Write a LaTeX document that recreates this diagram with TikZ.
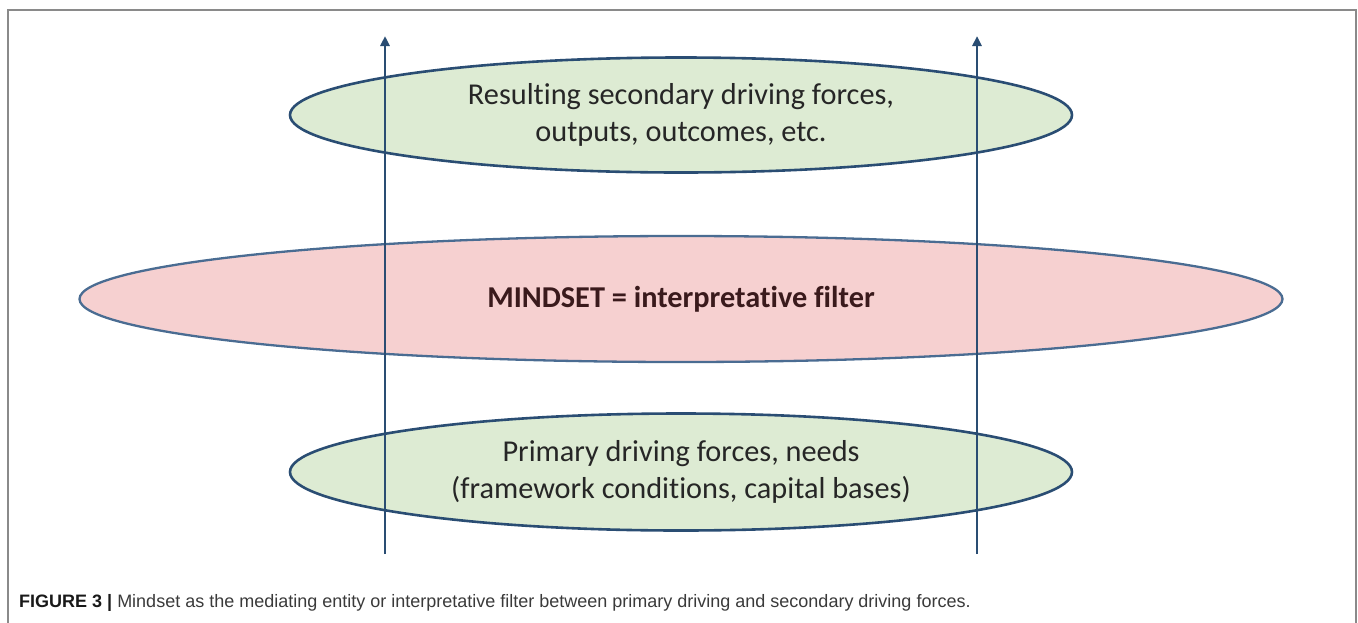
\documentclass[tikz,border=0pt]{standalone}
\usepackage{fontspec}
\setmainfont{Carlito}[Ligatures=NoCommon]
\newfontfamily\capfont{Liberation Sans}
\usetikzlibrary{shapes.geometric,arrows.meta}
\definecolor{strokeblue}{HTML}{2A4D73}
\definecolor{midblue}{HTML}{4A6C92}
\definecolor{greenfill}{HTML}{DDEBD3}
\definecolor{pinkfill}{HTML}{F6D0D0}
\definecolor{frameGray}{HTML}{8A8A8A}
\definecolor{mindtext}{HTML}{3A1A1C}
\definecolor{captext}{HTML}{3A3A3A}
\tikzset{
  oval/.style={ellipse, draw=strokeblue, line width=2.6pt, inner sep=0pt, align=center, font=\fontsize{30.3}{37}\selectfont, text=black!85},
  flow/.style={draw=strokeblue, line width=2.6pt, -{Triangle[length=10pt,width=9pt]}},
}
\begin{document}
\begin{tikzpicture}[x=1pt,y=-1pt]
\useasboundingbox (0,0) rectangle (1358,622);
\draw[frameGray, line width=2pt] (8,640) -- (8,10) -- (1356,10) -- (1356,640);
\node[oval, fill=greenfill, minimum width=782, minimum height=115] (top) at (681,115) {Resulting secondary driving forces,\\outputs, outcomes, etc.};
\node[oval, fill=pinkfill, draw=midblue, line width=2.3pt, minimum width=1203, minimum height=126, text=mindtext, font=\fontsize{30.3}{37}\selectfont\bfseries] (mid) at (681,299) {MINDSET = interpretative filter};
\node[oval, fill=greenfill, minimum width=782, minimum height=117] (bot) at (681,472) {Primary driving forces, needs\\(framework conditions, capital bases)};
\coordinate (l0) at (385,554);
\coordinate (l1) at (385,36);
\coordinate (r0) at (977,554);
\coordinate (r1) at (977,36);
\draw[flow] (l0) -- (l1);
\draw[flow] (r0) -- (r1);
\node[anchor=base west, inner sep=0pt, font=\capfont\fontsize{18}{22}\selectfont, text=captext] (cap) at (19,607) {\textcolor{black!90}{\textbf{FIGURE 3 |}} Mindset as the mediating entity or interpretative filter between primary driving and secondary driving forces.};
\end{tikzpicture}
\end{document}
